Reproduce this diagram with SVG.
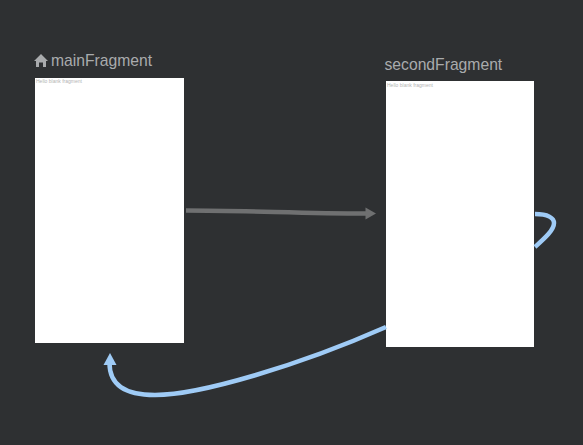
<svg xmlns="http://www.w3.org/2000/svg" width="583" height="445" viewBox="0 0 583 445">
<style>
.lbl{font-family:"Liberation Sans",Arial,sans-serif;font-size:15.700px;fill:#a9abad}
.sm{font-family:"Liberation Sans",Arial,sans-serif;font-size:5px;fill:#b4b4b4}
.scr{fill:#fff}
.gr{fill:none;stroke:#6f7071;stroke-width:4.500}
.bl{fill:none;stroke:#9fcbf6;stroke-width:4.500}
</style>
<rect width="583" height="445" fill="#2e3032"/>
<g id="mainFragment">
<path d="M41 54L48 61H46V67H43V62.500H39V67H36V61H34Z" fill="#a9abad"/>
<text class="lbl" x="51" y="66">mainFragment</text>
<rect class="scr" x="35" y="78" width="149" height="265"/>
<text class="sm" x="36" y="82.500">Hello blank fragment</text>
</g>
<g id="secondFragment">
<text class="lbl" x="384.500" y="70">secondFragment</text>
<rect class="scr" x="386" y="81" width="148" height="266"/>
<text class="sm" x="387" y="86.500">Hello blank fragment</text>
</g>
<g id="connectors">
<path class="gr" d="M186 210.500C250 210.500 300 213.500 366 213.500"/>
<path d="M365.500 207.500L376 213.500L365.500 219.500Z" fill="#6f7071"/>
<path class="bl" d="M535 214C548 214 554 218 554 223C554 230 545 238 535 247"/>
<path class="bl" d="M386 327C300 365 200 395 155 395C125 395 109 385 109.500 362"/>
<path d="M103.500 365L110 353L116.500 365Z" fill="#9fcbf6"/>
</g>
</svg>
